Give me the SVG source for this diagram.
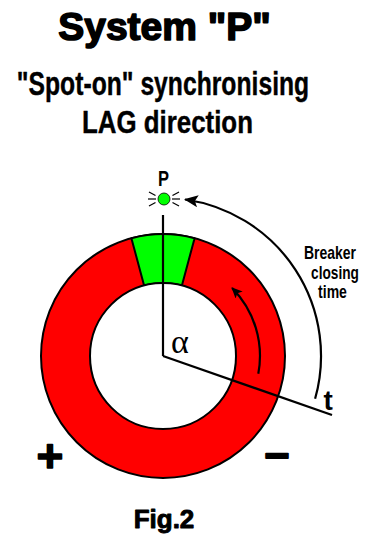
<svg xmlns="http://www.w3.org/2000/svg" width="377" height="535" viewBox="0 0 377 535">
<style>
.t{font-family:"Liberation Sans",Arial,sans-serif;font-weight:bold;fill:#000;}
.heavy{stroke:#000;stroke-linejoin:round;}
.ln{stroke:#000;stroke-width:2.2;fill:none;}
.ray{stroke:#000;stroke-width:1.2;}
</style>
<defs>
<marker id="ah" viewBox="0 0 14 12" refX="13" refY="6" markerWidth="14" markerHeight="12" markerUnits="userSpaceOnUse" orient="auto">
<path d="M0,0 L14,6 L0,12 L3,6 Z" fill="#000"/>
</marker>
<marker id="ah2" viewBox="0 0 11 10" refX="10" refY="5" markerWidth="11" markerHeight="10" markerUnits="userSpaceOnUse" orient="auto">
<path d="M0,0 L11,5 L0,10 L2.5,5 Z" fill="#000"/>
</marker>
</defs>
<rect width="377" height="535" fill="#fff"/>
<g id="titles">
<text class="t heavy" x="164.5" y="40" font-size="39" stroke-width="1.6" text-anchor="middle">System "P"</text>
<text class="t heavy" transform="translate(163,95) scale(0.76,1)" x="0" y="0" font-size="32.5" stroke-width="0.4" text-anchor="middle">"Spot-on" synchronising</text>
<text class="t heavy" transform="translate(167.5,133) scale(0.834,1)" x="0" y="0" font-size="31" stroke-width="0.4" text-anchor="middle">LAG direction</text>
</g>
<g id="ring">
<circle cx="163" cy="356" r="122" fill="#ff0000" stroke="#000" stroke-width="2"/>
<path d="M131.4,238.2 A122,122 0 0 1 194.6,238.2 L181.9,285.5 A73,73 0 0 0 144.1,285.5 Z" fill="#00ff00" stroke="#000" stroke-width="2" stroke-linejoin="round"/>
<circle cx="163" cy="356" r="73" fill="#fff" stroke="#000" stroke-width="2"/>
</g>
<g id="lamp">
<circle cx="164" cy="199" r="6" fill="#00ff00" stroke="#000" stroke-width="0.8"/>
<line class="ray" x1="148" y1="199" x2="156" y2="199"/>
<line class="ray" x1="149" y1="192" x2="155.5" y2="195.5"/>
<line class="ray" x1="149" y1="206" x2="155.5" y2="202.5"/>
<line class="ray" x1="172" y1="199" x2="180" y2="199"/>
<line class="ray" x1="172.5" y1="195.5" x2="179" y2="192"/>
<line class="ray" x1="172.5" y1="202.5" x2="179" y2="206"/>
<text class="t" transform="translate(163.5,185.5) scale(0.75,1)" x="0" y="0" font-size="22" text-anchor="middle">P</text>
</g>
<g id="connectors">
<line class="ln" x1="163" y1="215" x2="163" y2="356"/>
<polyline class="ln" points="163,356 332,415" stroke-linejoin="miter"/>
<path class="ln" d="M315.1,398.8 A158,158 0 0 0 185,199.5" marker-end="url(#ah)"/>
<path class="ln" d="M258.3,373.8 A97,97 0 0 0 232.1,287.9" marker-end="url(#ah2)"/>
</g>
<g id="labels">
<text x="171" y="353" font-family="'Liberation Serif','Times New Roman',serif" font-size="34" fill="#000">α</text>
<text class="t" x="323.5" y="410" font-size="28">t</text>
<text class="t" transform="translate(330,259) scale(0.776,1)" x="0" y="0" font-size="18" text-anchor="middle">Breaker</text>
<text class="t" transform="translate(335,279) scale(0.76,1)" x="0" y="0" font-size="18" text-anchor="middle">closing</text>
<text class="t" transform="translate(332.5,298) scale(0.78,1)" x="0" y="0" font-size="18" text-anchor="middle">time</text>
<text class="t heavy" x="50" y="472" font-size="46" stroke-width="1.5" text-anchor="middle">+</text>
<text class="t heavy" x="277" y="468" font-size="44" stroke-width="1.8" text-anchor="middle">–</text>
<text class="t heavy" x="164" y="528" font-size="26" stroke-width="0.9" text-anchor="middle">Fig.2</text>
</g>
</svg>
